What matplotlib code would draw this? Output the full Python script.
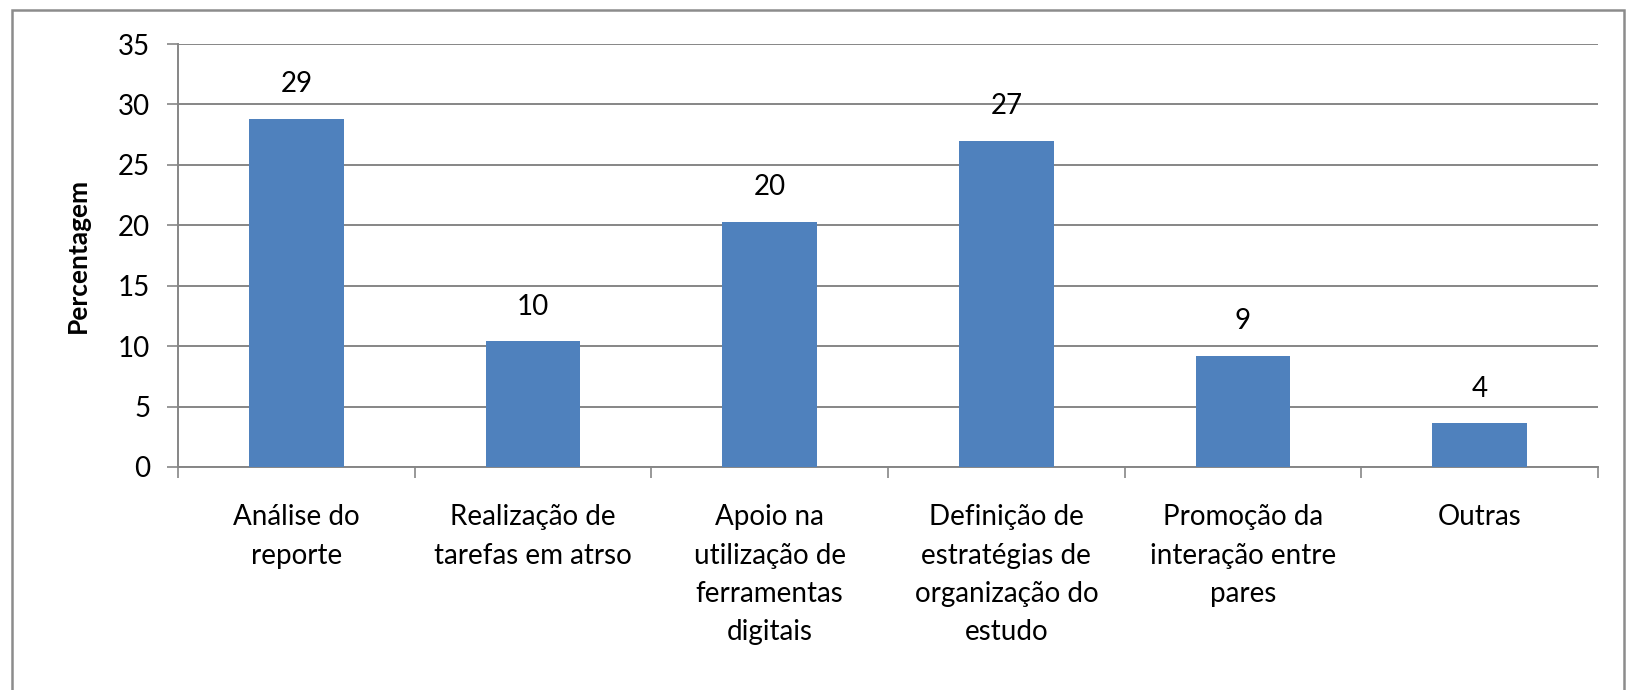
import numpy as np
import matplotlib
matplotlib.use("Agg")
import matplotlib.pyplot as plt
from matplotlib.patches import Rectangle

# ---- data ----
categories = [
    "Análise do\nreporte",
    "Realização de\ntarefas em atrso",
    "Apoio na\nutilização de\nferramentas\ndigitais",
    "Definição de\nestratégias de\norganização do\nestudo",
    "Promoção da\ninteração entre\npares",
    "Outras",
]
values = [28.8, 10.4, 20.3, 27.0, 9.2, 3.6]
y_ticks = [0, 5, 10, 15, 20, 25, 30, 35]

bar_color = "#4F81BD"
grid_color = "#868686"
fs = 20

plt.rcParams["font.family"] = ["Lato", "DejaVu Sans"]

fig = plt.figure(figsize=(16.27, 6.9), dpi=100)
ax = fig.add_axes([0.1094, 0.3232, 0.8728, 0.613])

x = np.arange(len(categories))
ax.bar(x, values, width=0.4, color=bar_color, zorder=3)

for xi, v in zip(x, values):
    ax.annotate("%.0f" % v, (xi, v), xytext=(0, 25), textcoords="offset points",
                ha="center", va="center", fontsize=fs, color="black")

ax.set_xlim(-0.5, len(categories) - 0.5)
ax.set_ylim(0, 35)
ax.set_yticks(y_ticks)
ax.tick_params(axis="y", labelsize=fs, length=8, width=1.2, color=grid_color, pad=12)
ax.yaxis.grid(True, color=grid_color, linewidth=1.4, zorder=0)

ax.set_xticks(x)
ax.set_xticklabels(categories, fontsize=fs, linespacing=1.58, va="top")
ax.tick_params(axis="x", which="major", length=0, pad=27)
ax.set_xticks(np.arange(-0.5, len(categories)), minor=True)
ax.tick_params(axis="x", which="minor", length=8, width=1.2, color=grid_color)

for side in ["top", "right"]:
    ax.spines[side].set_visible(False)
for side in ["left", "bottom"]:
    ax.spines[side].set_color(grid_color)
    ax.spines[side].set_linewidth(1.4)

ax.set_ylabel("Percentagem", fontsize=19, fontweight="bold", labelpad=20)

# outer chart border
fig.patches.append(Rectangle((0.0074, -0.01), 0.9908, 0.995, transform=fig.transFigure,
                             fill=False, edgecolor="#8C8C8C", linewidth=1.8))

fig.savefig("out.png", dpi=100)
plt.close(fig)
